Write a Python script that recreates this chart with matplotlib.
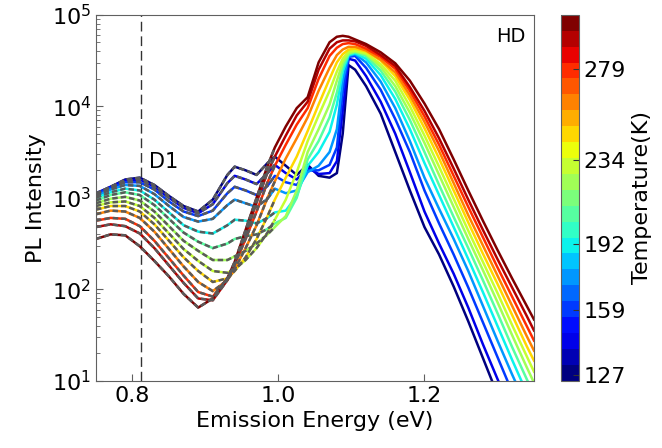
import numpy as np
import matplotlib
matplotlib.use('Agg')
import matplotlib.pyplot as plt
from matplotlib.colors import Normalize
from matplotlib.cm import ScalarMappable

# emission energy grid (eV)
energy = [0.75, 0.77, 0.79, 0.81, 0.83, 0.85, 0.87,
          0.89, 0.91, 0.93, 0.94, 0.955, 0.97, 0.985,
          0.995, 1.01, 1.025, 1.04, 1.055, 1.07, 1.08,
          1.088, 1.096, 1.105, 1.12, 1.14,
          1.16, 1.18, 1.2, 1.22, 1.24, 1.26, 1.28, 1.30, 1.32, 1.34, 1.35]

temps = [127, 140, 159, 172, 192, 206, 220, 234, 249, 264, 279, 292, 303]

# log10(PL intensity)
log_pl_127 = [3.04, 3.12, 3.20, 3.22, 3.14, 3.02, 2.91,
              2.85, 2.98, 3.25, 3.34, 3.30, 3.25, 3.38,
              3.45, 3.35, 3.25, 3.36, 3.24, 3.22, 3.27,
              3.70, 4.45, 4.40, 4.22, 3.92,
              3.50, 3.08, 2.68, 2.38, 2.03, 1.65, 1.25, 0.85, 0.50, 0.30, 0.20]
log_pl_140 = [3.05, 3.12, 3.19, 3.20, 3.12, 3.00, 2.89,
              2.83, 2.93, 3.16, 3.24, 3.20, 3.15, 3.27,
              3.36, 3.27, 3.20, 3.33, 3.26, 3.27, 3.40,
              3.95, 4.52, 4.50, 4.33, 4.05,
              3.70, 3.28, 2.85, 2.50, 2.17, 1.80, 1.40, 1.02, 0.65, 0.35, 0.20]
log_pl_159 = [3.04, 3.11, 3.17, 3.17, 3.09, 2.96, 2.85,
              2.80, 2.86, 3.05, 3.12, 3.08, 3.03, 3.13,
              3.24, 3.17, 3.14, 3.30, 3.30, 3.36, 3.55,
              4.15, 4.54, 4.55, 4.42, 4.18,
              3.86, 3.50, 3.08, 2.72, 2.38, 2.02, 1.64, 1.26, 0.88, 0.52, 0.35]
log_pl_172 = [3.02, 3.09, 3.14, 3.13, 3.04, 2.91, 2.79,
              2.74, 2.77, 2.92, 2.98, 2.94, 2.90, 2.99,
              3.10, 3.05, 3.08, 3.28, 3.35, 3.50, 3.75,
              4.28, 4.55, 4.57, 4.48, 4.27,
              3.98, 3.62, 3.22, 2.88, 2.55, 2.20, 1.82, 1.44, 1.07, 0.72, 0.55]
log_pl_192 = [3.00, 3.06, 3.10, 3.08, 2.98, 2.84, 2.70,
              2.63, 2.61, 2.70, 2.76, 2.75, 2.72, 2.78,
              2.84, 2.86, 3.02, 3.35, 3.50, 3.72, 4.02,
              4.38, 4.56, 4.58, 4.52, 4.34,
              4.08, 3.75, 3.38, 3.03, 2.68, 2.33, 1.97, 1.60, 1.23, 0.87, 0.70]
log_pl_206 = [2.97, 3.03, 3.06, 3.03, 2.92, 2.77, 2.62,
              2.52, 2.45, 2.50, 2.55, 2.58, 2.60, 2.66,
              2.72, 2.78, 3.00, 3.42, 3.62, 3.88, 4.15,
              4.43, 4.57, 4.59, 4.55, 4.39,
              4.16, 3.85, 3.50, 3.14, 2.79, 2.45, 2.10, 1.74, 1.37, 1.02, 0.85]
log_pl_220 = [2.94, 2.99, 3.01, 2.97, 2.85, 2.69, 2.53,
              2.42, 2.32, 2.32, 2.36, 2.42, 2.50, 2.60,
              2.68, 2.80, 3.08, 3.50, 3.75, 4.02, 4.28,
              4.48, 4.58, 4.60, 4.57, 4.43,
              4.22, 3.93, 3.60, 3.25, 2.90, 2.55, 2.21, 1.86, 1.50, 1.15, 0.98]
log_pl_234 = [2.91, 2.95, 2.96, 2.91, 2.78, 2.61, 2.44,
              2.31, 2.20, 2.18, 2.22, 2.32, 2.45, 2.62,
              2.76, 2.98, 3.28, 3.62, 3.90, 4.17, 4.38,
              4.52, 4.60, 4.61, 4.58, 4.46,
              4.28, 4.00, 3.68, 3.34, 2.99, 2.64, 2.30, 1.96, 1.61, 1.27, 1.10]
log_pl_249 = [2.87, 2.91, 2.91, 2.85, 2.71, 2.53, 2.35,
              2.20, 2.08, 2.12, 2.20, 2.35, 2.55, 2.80,
              2.98, 3.22, 3.45, 3.73, 4.02, 4.30, 4.48,
              4.57, 4.62, 4.63, 4.60, 4.50,
              4.33, 4.07, 3.76, 3.43, 3.08, 2.73, 2.39, 2.06, 1.72, 1.38, 1.22]
log_pl_264 = [2.82, 2.86, 2.85, 2.78, 2.63, 2.44, 2.25,
              2.08, 1.98, 2.10, 2.22, 2.45, 2.70, 3.00,
              3.18, 3.43, 3.65, 3.88, 4.17, 4.42, 4.56,
              4.62, 4.65, 4.65, 4.61, 4.51,
              4.37, 4.12, 3.83, 3.51, 3.16, 2.81, 2.48, 2.15, 1.82, 1.49, 1.33]
log_pl_279 = [2.75, 2.78, 2.77, 2.69, 2.53, 2.34, 2.15,
              1.97, 1.92, 2.12, 2.27, 2.55, 2.85, 3.17,
              3.35, 3.58, 3.80, 3.98, 4.30, 4.55, 4.64,
              4.68, 4.69, 4.68, 4.63, 4.54,
              4.41, 4.17, 3.89, 3.58, 3.24, 2.90, 2.57, 2.24, 1.92, 1.60, 1.44]
log_pl_292 = [2.68, 2.71, 2.69, 2.61, 2.45, 2.26, 2.07,
              1.90, 1.88, 2.10, 2.28, 2.60, 2.95, 3.28,
              3.45, 3.68, 3.90, 4.05, 4.40, 4.63, 4.70,
              4.72, 4.72, 4.71, 4.66, 4.56,
              4.44, 4.21, 3.95, 3.65, 3.32, 2.98, 2.65, 2.33, 2.02, 1.71, 1.55]
log_pl_303 = [2.55, 2.60, 2.59, 2.47, 2.31, 2.14, 1.95,
              1.80, 1.90, 2.12, 2.30, 2.65, 3.00, 3.35,
              3.55, 3.78, 3.98, 4.10, 4.48, 4.70, 4.76,
              4.77, 4.76, 4.73, 4.68, 4.59,
              4.47, 4.28, 4.03, 3.75, 3.42, 3.08, 2.75, 2.43, 2.12, 1.82, 1.67]

spectra = [log_pl_127, log_pl_140, log_pl_159, log_pl_172, log_pl_192,
           log_pl_206, log_pl_220, log_pl_234, log_pl_249, log_pl_264,
           log_pl_279, log_pl_292, log_pl_303]

cbar_ticks = [127, 159, 192, 234, 279]
d1_energy = 0.812

edge = '#606060'
fs = 16

fig = plt.figure(figsize=(6.62, 4.48), dpi=100)
ax = fig.add_axes([0.145, 0.150, 0.6616, 0.817])
cax = fig.add_axes([0.8474, 0.150, 0.0272, 0.817])

cmap = plt.get_cmap('jet', 23)
norm = Normalize(vmin=124, vmax=306)

x = np.array(energy)
fit_mask = x <= 1.0
for t, spec in zip(temps, spectra):
    y = 10 ** np.array(spec)
    ax.plot(x, y, color=cmap(norm(t)), lw=1.8, zorder=2)
    # fitted low-energy part drawn as grey dashes on top
    ax.plot(x[fit_mask], y[fit_mask], color='#5a5a5a', lw=1.8,
            ls=(0, (2.2, 1.2)), zorder=3)

ax.axvline(d1_energy, color='#333333', lw=1, ls=(0, (7, 3.5)), zorder=1)
ax.text(0.842, 2450, 'D1', fontsize=15, ha='center', va='center')
ax.text(0.947, 0.94, 'HD', fontsize=14, ha='center', va='center',
        transform=ax.transAxes)

ax.set_yscale('log')
ax.set_xlim(0.75, 1.35)
ax.set_ylim(10, 1e5)
ax.set_xticks([0.8, 1.0, 1.2])
ax.set_xlabel('Emission Energy (eV)', fontsize=fs)
ax.set_ylabel('PL Intensity', fontsize=fs)
ax.tick_params(which='both', direction='in', colors=edge, labelcolor='black',
               labelsize=fs)
ax.tick_params(which='major', length=5)
ax.tick_params(which='minor', length=3)
for s in ax.spines.values():
    s.set_color(edge)

sm = ScalarMappable(norm=norm, cmap=cmap)
cb = fig.colorbar(sm, cax=cax, ticks=cbar_ticks)
cb.ax.tick_params(direction='in', labelsize=fs, length=4, colors='#333333',
                  labelcolor='black')
cb.outline.set_edgecolor(edge)
cb.set_label('Temperature(K)', fontsize=fs)

fig.savefig('out.png', dpi=100)
